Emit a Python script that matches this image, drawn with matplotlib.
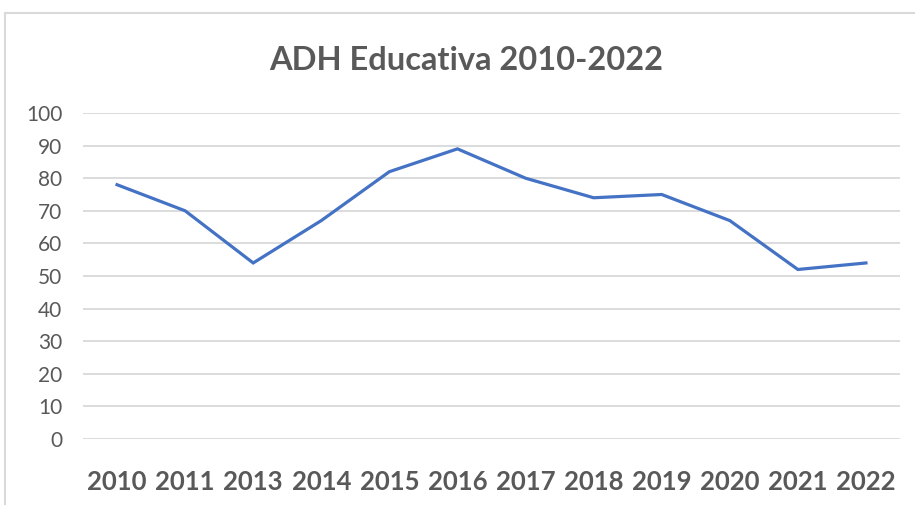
import matplotlib.pyplot as plt
from matplotlib.patches import Rectangle

# Data
years = ['2010', '2011', '2013', '2014', '2015', '2016', '2017', '2018', '2019', '2020', '2021', '2022']
adh = [78, 70, 54, 67, 82, 89, 80, 74, 75, 67, 52, 54]
yticks = [0, 10, 20, 30, 40, 50, 60, 70, 80, 90, 100]

plt.rcParams['font.family'] = ['Lato', 'DejaVu Sans']

fig = plt.figure(figsize=(9.15, 5.05), dpi=100)
ax = fig.add_axes([83 / 915, 66 / 505, 817 / 915, 326 / 505])

# chart frame (cropped on the right and bottom like the source)
fig.patches.append(Rectangle((5 / 915, -0.1), 1.2, (505 - 13) / 505 + 0.1,
                             transform=fig.transFigure, fill=False,
                             edgecolor='#d9d9d9', linewidth=1.5))

x = range(len(years))
ax.plot(x, adh, color='#4472C4', linewidth=2.3, solid_joinstyle='miter', zorder=3)

ax.set_xlim(-0.5, len(years) - 0.5)
ax.set_ylim(0, 100)
ax.set_yticks(yticks)
ax.set_yticklabels([str(v) for v in yticks], fontsize=15, color='#595959')
ax.set_xticks(list(x))
ax.set_xticklabels(years, fontsize=18.5, fontweight='bold', color='#595959')
ax.tick_params(axis='y', length=0, pad=15)
ax.tick_params(axis='x', length=0, pad=22)
ax.grid(axis='y', color='#d9d9d9', linewidth=1.3)
ax.set_axisbelow(True)
for s in ax.spines.values():
    s.set_visible(False)

fig.text(466 / 915, (505 - 61) / 505, 'ADH Educativa 2010-2022', ha='center', va='center',
         fontsize=23.5, fontweight='bold', color='#595959')

fig.savefig('out.png', dpi=100)
